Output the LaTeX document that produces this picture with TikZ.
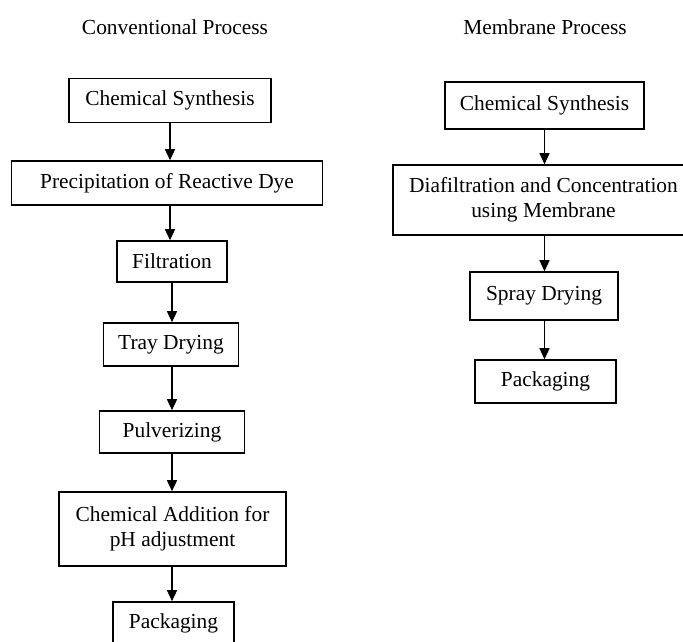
\documentclass[tikz,border=0pt]{standalone}
\usepackage{fontspec}
\setmainfont{Liberation Serif}
\usetikzlibrary{arrows.meta}

\tikzset{
  stepbox/.style={draw, line width=1.6pt, inner sep=0pt, align=center,
    minimum height=44pt, font=\fontsize{21.4}{25}\selectfont},
  flow/.style={-{Triangle[length=11pt,width=10pt]}, line width=1.4pt},
  heading/.style={font=\fontsize{21.4}{25}\selectfont}
}

\begin{document}
\begin{tikzpicture}[x=1pt, y=-1pt]

	\useasboundingbox (0,0) rectangle (683,641);
	\clip (0,0) rectangle (683,641);

        % titles
        \node[heading] (tconv) at (175,27) {Conventional Process};
        \node[heading] (tmem) at (545,27) {Membrane Process};

        % conventional process
	\node[stepbox, minimum width=202pt] (cs1) at (170,100.5) {Chemical Synthesis};
	\node[stepbox, minimum width=311pt] (prec) at (167,183) {Precipitation of Reactive Dye};
	\node[stepbox, minimum width=110pt, minimum height=41pt] (filt) at (172,261.5) {Filtration};
	\node[stepbox, minimum width=135pt, minimum height=43pt] (tray) at (171,344.5) {Tray Drying};
	\node[stepbox, minimum width=145pt, minimum height=42pt] (pulv) at (172,432) {Pulverizing};
	\node[stepbox, minimum width=227pt, minimum height=74pt] (chem) at (172.5,529) {Chemical Addition for\\pH adjustment};
	\node[stepbox, minimum width=121pt, minimum height=43pt] (pack1) at (173.5,623.5) {Packaging};

	\draw[flow] (cs1.south) -- (cs1.south |- prec.north);
	\draw[flow] (cs1.south |- prec.south) -- (cs1.south |- filt.north);
	\draw[flow] (filt.south) -- (filt.south |- tray.north);
	\draw[flow] (filt.south |- tray.south) -- (filt.south |- pulv.north);
	\draw[flow] (pulv.south) -- (pulv.south |- chem.north);
	\draw[flow] (pulv.south |- chem.south) -- (pulv.south |- pack1.north);

        % membrane process
	\node[stepbox, minimum width=199pt, minimum height=47pt] (cs2) at (544.5,105.5) {Chemical Synthesis};
	\node[stepbox, minimum width=301pt, minimum height=70pt] (dia) at (543.5,200) {Diafiltration and Concentration\\using Membrane};
	\node[stepbox, minimum width=148pt, minimum height=48pt] (spray) at (544,296) {Spray Drying};
	\node[stepbox, minimum width=141pt, minimum height=43pt] (pack2) at (545.5,381.5) {Packaging};

	\draw[flow] (cs2.south) -- (cs2.south |- dia.north);
	\draw[flow] (cs2.south |- dia.south) -- (cs2.south |- spray.north);
	\draw[flow] (cs2.south |- spray.south) -- (cs2.south |- pack2.north);

\end{tikzpicture}
\end{document}
